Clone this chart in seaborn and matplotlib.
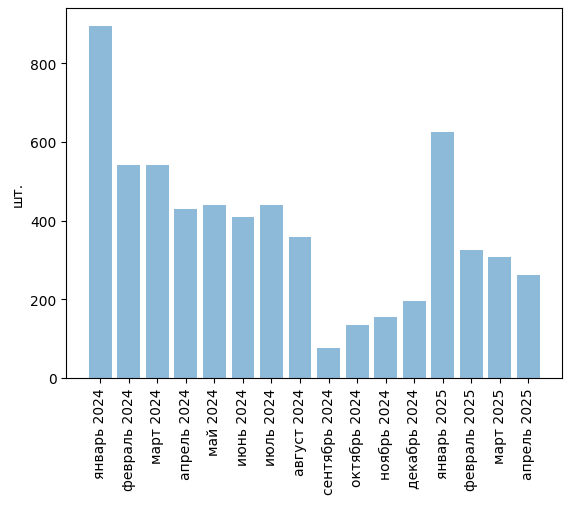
import pandas as pd
import matplotlib
matplotlib.use("Agg")
import matplotlib.pyplot as plt
import seaborn as sns

# месяцы и количество, шт.
months = ["январь 2024", "февраль 2024", "март 2024", "апрель 2024", "май 2024",
          "июнь 2024", "июль 2024", "август 2024", "сентябрь 2024", "октябрь 2024",
          "ноябрь 2024", "декабрь 2024", "январь 2025", "февраль 2025", "март 2025",
          "апрель 2025"]
counts = [895, 541, 541, 430, 440, 409, 440, 358, 76, 135, 155, 196, 625, 325, 308, 262]

df = pd.DataFrame({"month": months, "count": counts})

fig = plt.figure(figsize=(5.71, 5.06), dpi=100)
ax = fig.add_axes([0.1161, 0.2510, 0.9848 - 0.1161, 0.9816 - 0.2510])

sns.barplot(data=df, x="month", y="count", color="tab:blue", alpha=0.5,
            saturation=1, width=0.8, ax=ax)
ax.set_xlim(-1.19, 16.19)
ax.margins(y=0.05)
ax.set_ylim(0, max(counts) * 1.05)
ax.set_xlabel("")
ax.set_ylabel("шт.")
ax.tick_params(axis="x", rotation=90)

fig.savefig("out.png", dpi=100)
